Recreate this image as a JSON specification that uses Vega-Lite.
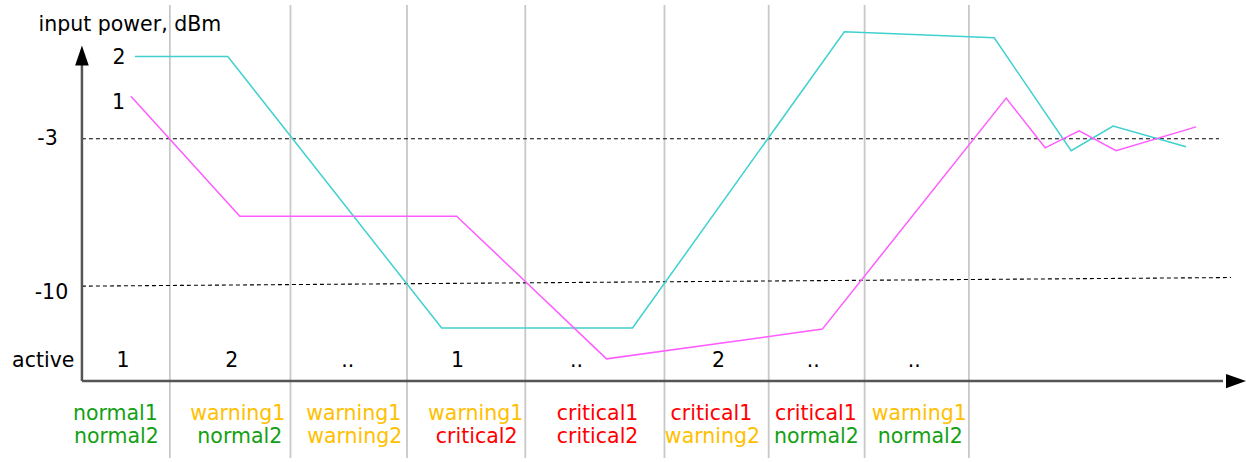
{
  "$schema": "https://vega.github.io/schema/vega-lite/v6.json",
  "width": 1246,
  "height": 462,
  "autosize": {"type": "fit", "contains": "padding"},
  "padding": 0,
  "background": "white",
  "config": {"view": {"stroke": null}},
  "datasets": {
    "guides": [
      {"id": "g1", "t": 8.8, "v": 3.385}, {"id": "g1", "t": 8.8, "v": -18.23},
      {"id": "g2", "t": 20.87, "v": 3.385}, {"id": "g2", "t": 20.87, "v": -18.23},
      {"id": "g3", "t": 32.53, "v": 3.385}, {"id": "g3", "t": 32.53, "v": -18.23},
      {"id": "g4", "t": 44.37, "v": 3.385}, {"id": "g4", "t": 44.37, "v": -18.23},
      {"id": "g5", "t": 58.3, "v": 3.385}, {"id": "g5", "t": 58.3, "v": -18.23},
      {"id": "g6", "t": 68.73, "v": 3.385}, {"id": "g6", "t": 68.73, "v": -18.23},
      {"id": "g7", "t": 78.33, "v": 3.385}, {"id": "g7", "t": 78.33, "v": -18.23},
      {"id": "g8", "t": 88.77, "v": 3.385}, {"id": "g8", "t": 88.77, "v": -18.23}
    ],
    "thresholds": [
      {"id": "-3", "t": 0, "v": -3.0}, {"id": "-3", "t": 113.8, "v": -3.0},
      {"id": "-10", "t": 0, "v": -10.03}, {"id": "-10", "t": 115.0, "v": -9.62}
    ],
    "axes": [
      {"id": "y", "t": 0, "v": -14.56}, {"id": "y", "t": 0, "v": 0.78},
      {"id": "x", "t": 0, "v": -14.56}, {"id": "x", "t": 114.2, "v": -14.56}
    ],
    "arrows": [
      {"dir": "up", "t": 0, "v": 0.97},
      {"dir": "right", "t": 115.5, "v": -14.56}
    ],
    "power": [
      {"s": "2", "t": 5.3, "v": 0.93},
      {"s": "2", "t": 14.6, "v": 0.93},
      {"s": "2", "t": 36.0, "v": -12.03},
      {"s": "2", "t": 55.1, "v": -12.03},
      {"s": "2", "t": 76.3, "v": 2.11},
      {"s": "2", "t": 91.3, "v": 1.82},
      {"s": "2", "t": 99.0, "v": -3.57},
      {"s": "2", "t": 103.2, "v": -2.39},
      {"s": "2", "t": 110.5, "v": -3.38},
      {"s": "1", "t": 4.9, "v": -0.97},
      {"s": "1", "t": 15.8, "v": -6.69},
      {"s": "1", "t": 37.5, "v": -6.69},
      {"s": "1", "t": 52.5, "v": -13.5},
      {"s": "1", "t": 74.1, "v": -12.08},
      {"s": "1", "t": 92.5, "v": -1.06},
      {"s": "1", "t": 96.4, "v": -3.43},
      {"s": "1", "t": 99.8, "v": -2.62},
      {"s": "1", "t": 103.5, "v": -3.57},
      {"s": "1", "t": 111.5, "v": -2.43}
    ],
    "texts": [
      {"text": "input power, dBm", "kind": "black", "t": 4.8, "v": 2.12},
      {"text": "2", "kind": "black", "t": 3.7, "v": 0.547},
      {"text": "1", "kind": "black", "t": 3.65, "v": -1.58},
      {"text": "-3", "kind": "black", "t": -3.45, "v": -3.32},
      {"text": "-10", "kind": "black", "t": -3.05, "v": -10.65},
      {"text": "active", "kind": "black", "t": -3.87, "v": -13.88},
      {"text": "1", "kind": "black", "t": 4.1, "v": -13.88},
      {"text": "2", "kind": "black", "t": 15.0, "v": -13.88},
      {"text": "..", "kind": "black", "t": 26.6, "v": -13.88},
      {"text": "1", "kind": "black", "t": 37.6, "v": -13.88},
      {"text": "..", "kind": "black", "t": 49.5, "v": -13.88},
      {"text": "2", "kind": "black", "t": 63.7, "v": -13.88},
      {"text": "..", "kind": "black", "t": 73.2, "v": -13.88},
      {"text": "..", "kind": "black", "t": 83.3, "v": -13.88},
      {"text": "normal1", "kind": "normal", "t": 3.35, "v": -16.43},
      {"text": "normal2", "kind": "normal", "t": 3.45, "v": -17.52},
      {"text": "warning1", "kind": "warning", "t": 15.6, "v": -16.43},
      {"text": "normal2", "kind": "normal", "t": 15.8, "v": -17.52},
      {"text": "warning1", "kind": "warning", "t": 27.2, "v": -16.43},
      {"text": "warning2", "kind": "warning", "t": 27.3, "v": -17.52},
      {"text": "warning1", "kind": "warning", "t": 39.4, "v": -16.43},
      {"text": "critical2", "kind": "critical", "t": 39.5, "v": -17.52},
      {"text": "critical1", "kind": "critical", "t": 51.6, "v": -16.43},
      {"text": "critical2", "kind": "critical", "t": 51.6, "v": -17.52},
      {"text": "critical1", "kind": "critical", "t": 63.0, "v": -16.43},
      {"text": "warning2", "kind": "warning", "t": 63.1, "v": -17.52},
      {"text": "critical1", "kind": "critical", "t": 73.45, "v": -16.43},
      {"text": "normal2", "kind": "normal", "t": 73.5, "v": -17.52},
      {"text": "warning1", "kind": "warning", "t": 83.8, "v": -16.43},
      {"text": "normal2", "kind": "normal", "t": 83.9, "v": -17.52}
    ]
  },
  "layer": [
    {
      "data": {"name": "guides"},
      "mark": {"type": "line", "color": "#c8c8c8", "strokeWidth": 1.8},
      "encoding": {
        "x": {"field": "t", "type": "quantitative", "scale": {"domain": [-8.2, 116.4], "nice": false, "zero": false}, "axis": null},
        "y": {"field": "v", "type": "quantitative", "scale": {"domain": [-18.23, 3.622], "nice": false, "zero": false}, "axis": null},
        "detail": {"field": "id"}
      }
    },
    {
      "data": {"name": "thresholds"},
      "mark": {"type": "line", "color": "#000000", "strokeWidth": 1.1, "strokeDash": [4, 3]},
      "encoding": {
        "x": {"field": "t", "type": "quantitative", "scale": {"domain": [-8.2, 116.4], "nice": false, "zero": false}, "axis": null},
        "y": {"field": "v", "type": "quantitative", "scale": {"domain": [-18.23, 3.622], "nice": false, "zero": false}, "axis": null},
        "detail": {"field": "id"}
      }
    },
    {
      "data": {"name": "power"},
      "mark": {"type": "line", "strokeWidth": 1.5},
      "encoding": {
        "x": {"field": "t", "type": "quantitative", "scale": {"domain": [-8.2, 116.4], "nice": false, "zero": false}, "axis": null},
        "y": {"field": "v", "type": "quantitative", "scale": {"domain": [-18.23, 3.622], "nice": false, "zero": false}, "axis": null},
        "color": {"field": "s", "type": "nominal", "scale": {"domain": ["1", "2"], "range": ["#ff5cff", "#40d0d0"]}, "legend": null}
      }
    },
    {
      "data": {"name": "axes"},
      "mark": {"type": "line", "color": "#555555", "strokeWidth": 2.5},
      "encoding": {
        "x": {"field": "t", "type": "quantitative", "scale": {"domain": [-8.2, 116.4], "nice": false, "zero": false}, "axis": null},
        "y": {"field": "v", "type": "quantitative", "scale": {"domain": [-18.23, 3.622], "nice": false, "zero": false}, "axis": null},
        "detail": {"field": "id"}
      }
    },
    {
      "data": {"name": "arrows"},
      "mark": {"type": "point", "filled": true, "color": "#000000", "opacity": 1, "size": 400, "strokeWidth": 0},
      "encoding": {
        "x": {"field": "t", "type": "quantitative", "scale": {"domain": [-8.2, 116.4], "nice": false, "zero": false}, "axis": null},
        "y": {"field": "v", "type": "quantitative", "scale": {"domain": [-18.23, 3.622], "nice": false, "zero": false}, "axis": null},
        "shape": {"field": "dir", "type": "nominal", "scale": {"domain": ["up", "right"], "range": ["M0,-1L0.68,1L-0.68,1Z", "M1,0L-1,0.72L-1,-0.72Z"]}, "legend": null}
      }
    },
    {
      "data": {"name": "texts"},
      "mark": {"type": "text", "font": "DejaVu Sans", "fontSize": 20.5, "align": "center", "baseline": "alphabetic"},
      "encoding": {
        "x": {"field": "t", "type": "quantitative", "scale": {"domain": [-8.2, 116.4], "nice": false, "zero": false}, "axis": null},
        "y": {"field": "v", "type": "quantitative", "scale": {"domain": [-18.23, 3.622], "nice": false, "zero": false}, "axis": null},
        "text": {"field": "text", "type": "nominal"},
        "color": {"field": "kind", "type": "nominal", "scale": {"domain": ["black", "normal", "warning", "critical"], "range": ["#000000", "#14a014", "#ffc000", "#ff0000"]}, "legend": null}
      }
    }
  ],
  "resolve": {"scale": {"color": "independent"}}
}
